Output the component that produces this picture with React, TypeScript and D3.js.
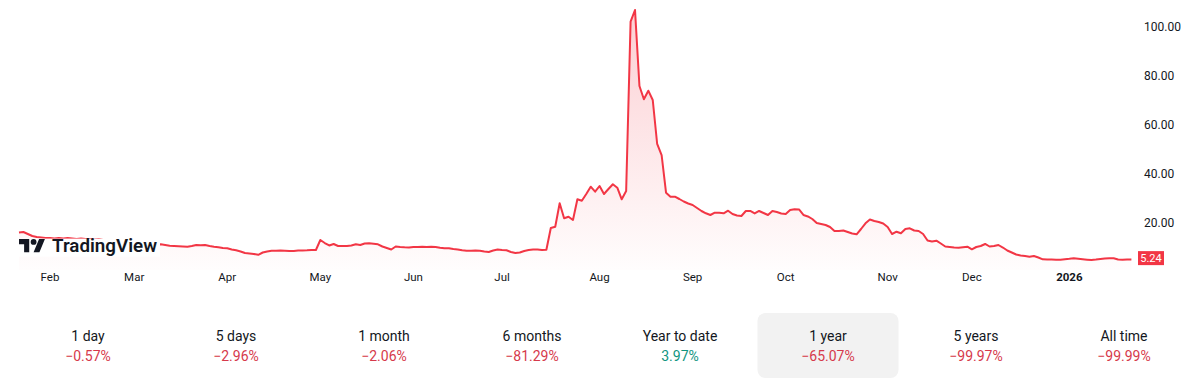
import React from 'react';
import * as d3 from 'd3';

// Daily closes, one per trading day (23 Jan 2025 – 23 Jan 2026)
const prices: number[] = [
  16.28, 16.48, 15.67, 14.85, 14.45, 14.24, 14.04, 14.04, 13.84, 14.04,
  13.84, 14.04, 13.84, 13.63, 13.84, 13.63, 13.63, 13.43, 13.63, 13.22,
  13.02, 12.82, 12.61, 12.41, 12.21, 12.0, 12.0, 11.8, 11.6, 11.8,
  11.6, 11.39, 11.47, 11.19, 10.86, 10.78, 10.66, 10.58, 10.5, 10.78,
  11.19, 11.07, 11.19, 10.78, 10.46, 10.25, 9.97, 9.85, 9.36, 9.03,
  8.55, 7.93, 7.73, 7.53, 7.2, 8.14, 8.55, 8.83, 8.83, 8.95,
  8.87, 8.75, 8.75, 8.95, 8.95, 9.03, 9.16, 9.16, 13.22, 12.0,
  10.99, 11.6, 10.78, 10.78, 10.78, 10.99, 11.47, 11.19, 11.8, 11.88,
  11.68, 11.47, 10.58, 9.97, 9.36, 10.58, 10.38, 10.25, 10.17, 10.38,
  10.38, 10.5, 10.38, 10.46, 10.38, 10.05, 9.85, 9.85, 9.56, 9.36,
  9.03, 8.87, 8.83, 8.95, 8.87, 8.55, 8.34, 8.95, 9.36, 9.16,
  9.03, 8.34, 7.93, 8.14, 8.75, 9.16, 9.36, 9.36, 9.16, 9.24,
  18.11, 18.64, 28.16, 22.06, 22.71, 21.36, 29.79, 29.22, 31.94, 34.91,
  32.88, 35.2, 31.94, 33.98, 35.89, 34.51, 29.79, 33.16, 102.05, 106.82,
  75.89, 70.48, 73.98, 70.19, 52.29, 47.81, 32.47, 30.84, 30.84, 29.91,
  28.89, 28.08, 27.47, 26.25, 25.03, 24.09, 23.4, 24.33, 24.33, 24.09,
  25.15, 23.8, 23.19, 22.99, 25.03, 25.03, 24.01, 25.03, 24.21, 23.4,
  25.03, 24.62, 24.01, 23.8, 25.43, 25.72, 25.64, 23.4, 22.79, 21.77,
  20.14, 19.74, 19.33, 18.51, 16.89, 16.89, 17.09, 16.48, 15.87, 15.54,
  17.7, 20.02, 21.57, 20.96, 20.55, 19.94, 18.51, 15.67, 16.6, 15.95,
  17.7, 17.99, 17.09, 16.89, 15.67, 13.02, 12.61, 12.94, 11.8, 10.58,
  10.38, 10.17, 10.09, 10.29, 10.5, 9.44, 10.38, 10.78, 11.6, 10.58,
  10.78, 11.19, 10.17, 8.95, 8.14, 7.32, 6.92, 6.71, 6.43, 6.71,
  6.1, 5.37, 5.29, 5.29, 5.21, 5.21, 5.41, 5.57, 5.78, 5.57,
  5.37, 5.21, 5.09, 5.25, 5.49, 5.7, 5.78, 5.78, 5.29, 5.21,
  5.29, 5.24,
];

// Time-axis labels and the trading-day index they sit on
const monthLabels = ['Feb', 'Mar', 'Apr', 'May', 'Jun', 'Jul', 'Aug', 'Sep', 'Oct', 'Nov', 'Dec', '2026'];
const monthBars = [7, 26, 47, 68, 89, 109, 131, 152, 173, 196, 215, 237];
const boldLabels = ['2026'];

const priceTicks = [20, 40, 60, 80, 100];

const periodLabels = ['1 day', '5 days', '1 month', '6 months', 'Year to date', '1 year', '5 years', 'All time'];
const periodChanges = [-0.57, -2.96, -2.06, -81.29, 3.97, -65.07, -99.97, -99.99];
const selectedPeriod = '1 year';

const RED = '#F23645';
const RED_TEXT = '#d6394b';
const GREEN = '#10957f';
const TEXT = '#131722';
const FONT = "Roboto, 'Noto Sans', Arial, sans-serif";

export default function App() {
  const W = 1200;
  const H = 388;

  const x = d3.scaleLinear().domain([0, prices.length - 1]).range([18.97, 1131.4]);
  const y = d3.scaleLinear().domain([0, 100]).range([272.5, 26.75]);
  const plotBottom = 270;

  const line = d3
    .line<number>()
    .x((_, i) => x(i))
    .y((d) => y(d))
    .curve(d3.curveLinear);
  const area = d3
    .area<number>()
    .x((_, i) => x(i))
    .y0(plotBottom)
    .y1((d) => y(d));

  const fmt = d3.format('.2f');
  const last = prices[prices.length - 1];
  const lastY = y(last) - 1.5;

  const cols = d3.scaleBand<string>().domain(periodLabels).range([14, 1198]);
  const fmtChange = (v: number) => (v < 0 ? '\u2212' + fmt(Math.abs(v)) + '%' : fmt(v) + '%');

  return (
    <svg
      width={W}
      height={H}
      viewBox={`0 0 ${W} ${H}`}
      style={{ position: 'absolute', left: 0, top: 0, background: '#fff', fontFamily: FONT }}
    >
      <defs>
        <linearGradient id="areaFill" gradientUnits="userSpaceOnUse" x1="0" y1={y(107)} x2="0" y2={plotBottom}>
          <stop offset="0" stopColor={RED} stopOpacity={0.24} />
          <stop offset="1" stopColor={RED} stopOpacity={0.01} />
        </linearGradient>
      </defs>
      <rect x={0} y={0} width={W} height={H} fill="#fff" />

      <path d={area(prices) || ''} fill="url(#areaFill)" />
      <path d={line(prices) || ''} fill="none" stroke={RED} strokeWidth={2} strokeLinejoin="round" />

      {/* TradingView logo */}
      <rect x={17} y={238.6} width={143} height={18} fill="#fff" />
      <g transform="translate(19,236.1) scale(0.73)" fill={TEXT}>
        <path d="M14 22H7V11H0V4h14v18zM28 22h-8l7.5-18h8L28 22z" />
        <circle cx={20} cy={8} r={4} />
      </g>
      <text
        x={52}
        y={251.7}
        fontSize={17.5}
        fontWeight={600}
        fill={TEXT}
        textLength={105}
        lengthAdjust="spacingAndGlyphs"
      >
        TradingView
      </text>

      {/* price scale */}
      {priceTicks.map((t) => (
        <text key={t} x={1144} y={y(t)} dominantBaseline="central" fontSize={12} fill={TEXT}>
          {fmt(t)}
        </text>
      ))}
      <rect x={1138} y={lastY - 7} width={26} height={14} fill={RED} />
      <text x={1151} y={lastY} dominantBaseline="central" textAnchor="middle" fontSize={11} fill="#fff">
        {fmt(last)}
      </text>

      {/* time scale */}
      {monthLabels.map((m, i) => (
        <text
          key={m}
          x={x(monthBars[i])}
          y={277}
          dominantBaseline="central"
          textAnchor="middle"
          fontSize={11.5}
          fontWeight={boldLabels.includes(m) ? 700 : 400}
          fill={TEXT}
        >
          {m}
        </text>
      ))}

      {/* performance row */}
      {periodLabels.map((p, i) => {
        const cx = (cols(p) || 0) + cols.bandwidth() / 2;
        const v = periodChanges[i];
        return (
          <g key={p}>
            {p === selectedPeriod && (
              <rect x={cx - 70.5} y={313} width={141} height={65} rx={8} fill="#f2f2f2" />
            )}
            <text x={cx} y={336} dominantBaseline="central" textAnchor="middle" fontSize={14} fill={TEXT}>
              {p}
            </text>
            <text
              x={cx}
              y={356}
              dominantBaseline="central"
              textAnchor="middle"
              fontSize={14}
              fill={v < 0 ? RED_TEXT : GREEN}
            >
              {fmtChange(v)}
            </text>
          </g>
        );
      })}
    </svg>
  );
}
